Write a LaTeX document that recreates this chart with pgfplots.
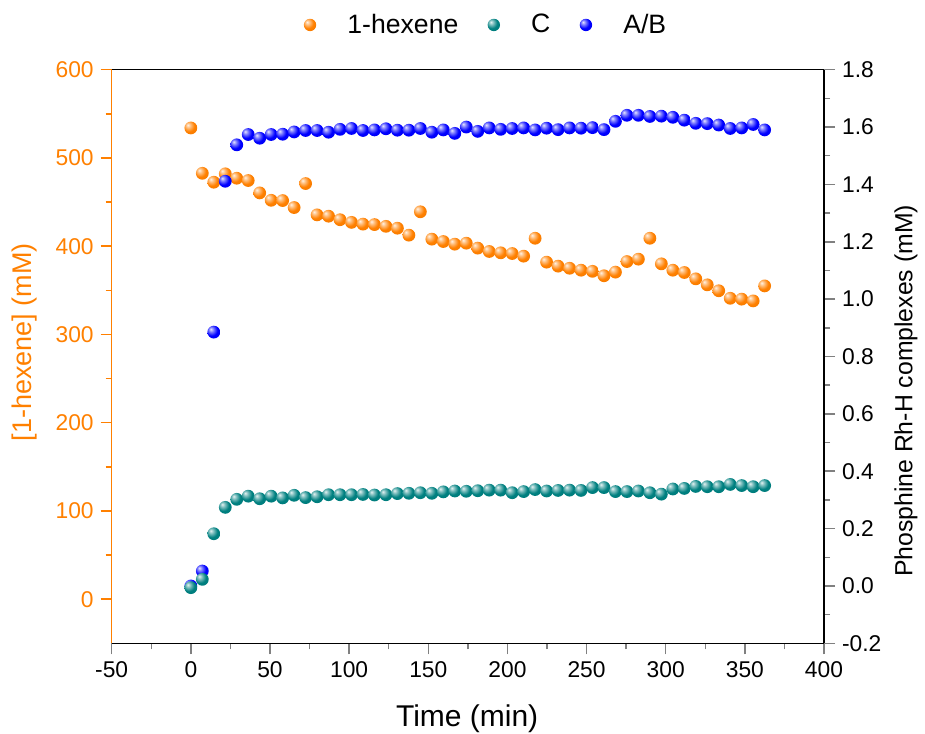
\documentclass[border=0pt]{standalone}
\usepackage{fontspec}
\setmainfont{Liberation Sans}
\usepackage{pgfplots}
\pgfplotsset{compat=1.18}
\usepackage{pgfplotstable}
\definecolor{hexo}{RGB}{255,128,0}
\definecolor{tealc}{RGB}{0,128,128}
\definecolor{blueab}{RGB}{0,0,255}

\pgfdeclareradialshading{shhex}{\pgfqpoint{-12bp}{12bp}}{%
 color(0bp)=(hexo!10!white); color(9bp)=(hexo!50!white); color(22bp)=(hexo);
 color(50bp)=(hexo!92!black); color(70bp)=(hexo!85!black)}
\pgfdeclareradialshading{shteal}{\pgfqpoint{-12bp}{12bp}}{%
 color(0bp)=(tealc!10!white); color(9bp)=(tealc!50!white); color(22bp)=(tealc);
 color(50bp)=(tealc!92!black); color(70bp)=(tealc!85!black)}
\pgfdeclareradialshading{shblue}{\pgfqpoint{-12bp}{12bp}}{%
 color(0bp)=(blueab!10!white); color(9bp)=(blueab!50!white); color(22bp)=(blueab);
 color(50bp)=(blueab!92!black); color(70bp)=(blueab!85!black)}
\pgfdeclareplotmark{hexball}{\pgfpathcircle{\pgfpointorigin}{\pgfplotmarksize}\pgfshadepath{shhex}{0}\pgfusepath{}}
\pgfdeclareplotmark{tealball}{\pgfpathcircle{\pgfpointorigin}{\pgfplotmarksize}\pgfshadepath{shteal}{0}\pgfusepath{}}
\pgfdeclareplotmark{blueball}{\pgfpathcircle{\pgfpointorigin}{\pgfplotmarksize}\pgfshadepath{shblue}{0}\pgfusepath{}}

\pgfplotstableread{
t hex C AB
0 534 -0.006 0.0
7.25 482.6 0.023 0.052
14.5 472.5 0.182 0.885
21.75 482 0.274 1.411
29 477 0.302 1.538
36.25 474.4 0.313 1.574
43.5 460.4 0.304 1.561
50.75 452 0.313 1.574
58 451.7 0.307 1.575
65.25 443.8 0.316 1.583
72.5 471 0.308 1.588
79.75 435.5 0.311 1.588
87 434 0.318 1.582
94.25 430 0.318 1.592
101.5 427 0.318 1.595
108.75 425 0.319 1.588
116 424.5 0.317 1.590
123.25 422.5 0.318 1.594
130.5 420.4 0.322 1.589
137.75 412.5 0.323 1.589
145 439 0.325 1.595
152.25 408 0.323 1.582
159.5 405.3 0.328 1.590
166.75 402.3 0.331 1.578
174 403.4 0.330 1.600
181.25 397.8 0.332 1.585
188.5 394 0.334 1.597
195.75 392.5 0.334 1.592
203 391.7 0.325 1.595
210.25 388.7 0.329 1.597
217.5 409 0.336 1.590
224.75 381.9 0.331 1.596
232 377.4 0.333 1.591
239.25 375 0.334 1.597
246.5 372.8 0.333 1.596
253.75 371.5 0.343 1.598
261 366.5 0.343 1.591
268.25 370.6 0.329 1.620
275.5 382.6 0.329 1.641
282.75 385.3 0.331 1.641
290 409 0.325 1.637
297.25 380 0.320 1.638
304.5 372.8 0.338 1.634
311.75 370.2 0.340 1.624
319 363 0.347 1.613
326.25 356.2 0.346 1.612
333.5 349.5 0.346 1.607
340.75 341 0.354 1.595
348 340 0.350 1.597
355.25 338 0.346 1.609
362.5 355 0.350 1.590
}\data

\begin{document}
\begin{tikzpicture}
\pgfplotsset{
  common/.style={
    scale only axis, width=356.15pt, height=286.8pt,
    xmin=-50, xmax=400,
    /pgf/number format/assume math mode=true,
    tick align=outside,
    major tick length=5.5pt, minor tick length=3pt,
    every tick/.append style={line width=0.75pt},
    axis line style={line width=0.75pt},
    ticklabel style={font=\fontsize{11.4}{13}\selectfont},
    label style={font=\fontsize{13.5}{16}\selectfont},
  },
  legball/.style={only marks, mark=#1, mark size=3.1pt,
    legend image code/.code={\path (0cm,0cm) (0.88cm,0cm); \draw[##1] plot coordinates {(0.3cm,0cm)};}},
}
\begin{axis}[common,
  axis y line*=left,
  ymin=-50, ymax=600,
  ytick={0,100,200,300,400,500,600}, minor y tick num=1,
  xtick={-50,0,50,100,150,200,250,300,350,400}, minor x tick num=1,
  xtick pos=left,
  y axis line style={draw=hexo},
  ytick style={draw=hexo},
  yticklabel style={text=hexo},
  xlabel={Time (min)},
  xlabel style={at={(axis description cs:0.499,-0.132)}, anchor=center, font=\fontsize{15}{18}\selectfont},
  ylabel={[1-hexene] (mM)},
  ylabel style={text=hexo, at={(axis description cs:-0.123,0.525)}, anchor=center},
]
\coordinate (sw) at (rel axis cs:0,0);
\addplot[only marks, mark=hexball, mark size=3.2pt] table[x=t, y=hex] {\data};
\end{axis}
\begin{axis}[common,
  axis y line*=right, axis x line=none,
  ymin=-0.2, ymax=1.8,
  ytick={-0.2,0,0.2,0.4,0.6,0.8,1.0,1.2,1.4,1.6,1.8}, minor y tick num=1,
  yticklabel style={/pgf/number format/.cd, fixed, fixed zerofill, precision=1},
  ylabel={Phosphine Rh-H complexes (mM)},
  ylabel style={at={(axis description cs:1.115,0.44)}, anchor=center, font=\fontsize{12.4}{15}\selectfont},
  legend style={at={(axis description cs:0.519,1.078)}, anchor=center,
    draw=none, fill=none, font=\fontsize{13.3}{16}\selectfont,
    /tikz/every even column/.append style={column sep=7pt}},
  legend columns=3,
]
\addlegendimage{legball=hexball}
\addlegendentry{1-hexene}
\addlegendimage{legball=tealball}
\addlegendentry{C}
\addlegendimage{legball=blueball}
\addlegendentry{A/B}
\addplot[forget plot, only marks, mark=blueball, mark size=3.2pt] table[x=t, y=AB] {\data};
\addplot[forget plot, only marks, mark=tealball, mark size=3.2pt] table[x=t, y=C] {\data};
\end{axis}
\pgfresetboundingbox
\path (sw) ++(-55.85pt,-44.85pt) rectangle ++(462.5pt,366.5pt);
\end{tikzpicture}
\end{document}
